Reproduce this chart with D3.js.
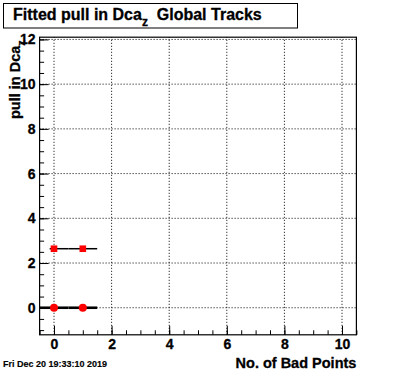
<!DOCTYPE html>
<html>
<head>
<meta charset="utf-8">
<script src="https://cdn.jsdelivr.net/npm/d3@7"></script>
<style>
  body { margin: 0; background: #fff; }
  svg text { font-family: "Liberation Sans", Arial, sans-serif; font-weight: bold; stroke: #000; stroke-width: 0.3px; }
</style>
</head>
<body>
<div id="chart"></div>
<script>
// data
const xTicks = [0, 2, 4, 6, 8, 10];
const yTicks = [0, 2, 4, 6, 8, 10, 12];

// red squares
const sqX = [0, 1];
const sqY = [2.64, 2.64];
const sqLo = [-0.15, 0.5];
const sqHi = [0.5, 1.5];

// red circles
const ciX = [0, 1];
const ciY = [0.0, 0.0];
const ciLo = [-0.5, 0.5];
const ciHi = [0.5, 1.5];

const W = 396, H = 372;
const margin = { top: 37.2, right: 39.6, bottom: 37.2, left: 39.6 };

const svg = d3.select("#chart").append("svg")
  .attr("width", W).attr("height", H);

svg.append("rect").attr("width", W).attr("height", H).attr("fill", "#fff");

const x = d3.scaleLinear().domain([-0.5, 10.5]).range([margin.left, W - margin.right]);
const y = d3.scaleLinear().domain([-1.21, 12.1]).range([H - margin.bottom, margin.top]);

// grid
svg.append("g").selectAll("line").data(xTicks).join("line")
  .attr("x1", d => x(d)).attr("x2", d => x(d))
  .attr("y1", y.range()[0]).attr("y2", y.range()[1])
  .attr("stroke", "#000").attr("stroke-width", 1).attr("stroke-dasharray", "1,2");
svg.append("g").selectAll("line").data(yTicks).join("line")
  .attr("x1", x.range()[0]).attr("x2", x.range()[1])
  .attr("y1", d => y(d)).attr("y2", d => y(d))
  .attr("stroke", "#000").attr("stroke-width", 1).attr("stroke-dasharray", "1,2");

// axes (ticks inside, ROOT style)
const xMinor = d3.range(-0.5, 10.51, 0.5);
const yMinor = d3.range(-1, 12.01, 0.5);

const labelStyle = (sel) => sel.selectAll("text")
  .attr("fill", "#000")
  .style("font-family", "'Liberation Sans', Arial, sans-serif")
  .style("font-weight", "bold")
  .style("font-size", "14px");

const xAxis = svg.append("g").attr("transform", `translate(0,${y.range()[0]})`);
xAxis.call(d3.axisBottom(x).tickValues(xMinor).tickSize(-4.5).tickFormat(""))
  .call(g => g.select(".domain").remove());
xAxis.append("g").call(d3.axisBottom(x).tickValues(xTicks).tickSize(-9).tickPadding(4).tickFormat(d3.format("d")))
  .call(g => g.select(".domain").remove())
  .call(labelStyle);

const yAxis = svg.append("g").attr("transform", `translate(${x.range()[0]},0)`);
yAxis.call(d3.axisLeft(y).tickValues(yMinor).tickSize(-4.5).tickFormat(""))
  .call(g => g.select(".domain").remove());
yAxis.append("g").call(d3.axisLeft(y).tickValues(yTicks).tickSize(-9).tickPadding(4).tickFormat(d3.format("d")))
  .call(g => g.select(".domain").remove())
  .call(labelStyle);

svg.selectAll(".tick line").attr("stroke", "#000");

// frame
svg.append("rect")
  .attr("x", x.range()[0]).attr("y", y.range()[1])
  .attr("width", x.range()[1] - x.range()[0])
  .attr("height", y.range()[0] - y.range()[1])
  .attr("fill", "none").attr("stroke", "#000").attr("stroke-width", 1.2);

// error bars
svg.append("g").selectAll("line").data(sqX).join("line")
  .attr("x1", (d, i) => x(sqLo[i])).attr("x2", (d, i) => x(sqHi[i]))
  .attr("y1", (d, i) => y(sqY[i])).attr("y2", (d, i) => y(sqY[i]))
  .attr("stroke", "#000").attr("stroke-width", 1.5);
svg.append("g").selectAll("line").data(ciX).join("line")
  .attr("x1", (d, i) => x(ciLo[i])).attr("x2", (d, i) => x(ciHi[i]))
  .attr("y1", (d, i) => y(ciY[i])).attr("y2", (d, i) => y(ciY[i]))
  .attr("stroke", "#000").attr("stroke-width", 2.6);

// markers
svg.append("g").selectAll("rect").data(sqX).join("rect")
  .attr("x", (d, i) => x(d) - 3.3).attr("y", (d, i) => y(sqY[i]) - 3.3)
  .attr("width", 6.6).attr("height", 6.6).attr("fill", "#f00");
svg.append("g").selectAll("circle").data(ciX).join("circle")
  .attr("cx", d => x(d)).attr("cy", (d, i) => y(ciY[i]))
  .attr("r", 4).attr("fill", "#f00");

// title box
svg.append("rect").attr("x", 3.5).attr("y", 3.5).attr("width", 294).attr("height", 24.5)
  .attr("fill", "#fff").attr("stroke", "#000").attr("stroke-width", 1);
const title = svg.append("text").attr("x", 13).attr("y", 20).style("font-size", "16px").attr("fill", "#000")
  .attr("xml:space", "preserve");
title.append("tspan").text("Fitted pull in Dca");
title.append("tspan").attr("dy", 6).style("font-size", "12px").text("z");
title.append("tspan").attr("dy", -6).text("  Global Tracks");

// axis titles
svg.append("text")
  .attr("x", W - margin.right).attr("y", 368)
  .attr("text-anchor", "end").style("font-size", "14.5px").attr("fill", "#000")
  .text("No. of Bad Points");

const yt = svg.append("text")
  .attr("transform", `translate(20,${margin.top + 3}) rotate(-90)`)
  .attr("text-anchor", "end").style("font-size", "14.5px").attr("fill", "#000");
yt.append("tspan").text("pull in Dca");
yt.append("tspan").attr("dy", 5).style("font-size", "11px").text("z");

// date stamp
svg.append("text").attr("x", 3).attr("y", 367)
  .style("font-size", "9px").style("stroke-width", "0.15px").attr("fill", "#000")
  .text("Fri Dec 20 19:33:10 2019");
</script>
</body>
</html>
